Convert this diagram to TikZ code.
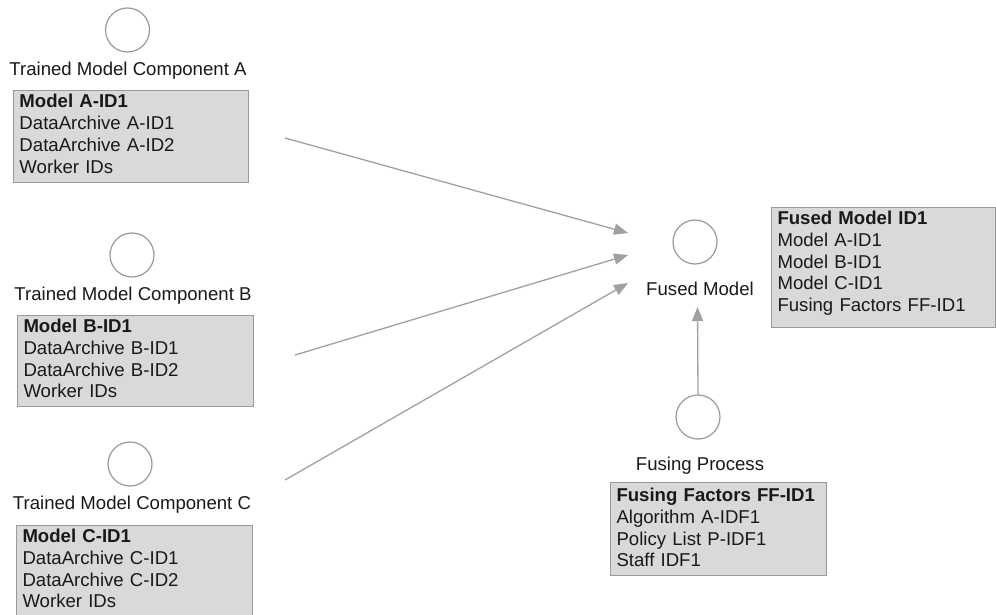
\documentclass[tikz,border=0pt]{standalone}
\usepackage{fontspec}
\setmainfont{Liberation Sans}
\usetikzlibrary{arrows.meta}
\definecolor{boxfill}{HTML}{D9D9D9}
\definecolor{edgegray}{HTML}{9A9A9A}
\definecolor{arrowgray}{HTML}{A0A0A0}
\begin{document}
\begin{tikzpicture}[x=1pt,y=-1pt,
  every node/.style={font=\fontsize{18.6}{21.8}\selectfont, text=black!90},
  comp/.style={circle, draw=edgegray, fill=white, line width=1.2pt, minimum size=44pt, inner sep=0pt},
  lbl/.style={anchor=base, inner sep=0pt},
  infobox/.style={draw=edgegray, fill=boxfill, line width=1pt, anchor=north west, inner xsep=6pt, inner ysep=0pt, align=left},
  conn/.style={draw=arrowgray, line width=1.3pt, -{Triangle[length=14pt,width=11pt]}}
]
\useasboundingbox (0,0) rectangle (996,615);
\clip (0,0) rectangle (996,615);

% component A
\node[comp] (cA) at (127.5,30) {};
\node[lbl] (lA) at (128,76) {Trained Model Component A};
\node[infobox, text width=223pt] (bA) at (13,90)
  {\rule{0pt}{17.5pt}\textbf{Model A-ID1}\\DataArchive A-ID1\\DataArchive A-ID2\\Worker IDs\rule[-9pt]{0pt}{0pt}};

% component B
\node[comp] (cB) at (132,255) {};
\node[lbl] (lB) at (133,300) {Trained Model Component B};
\node[infobox, text width=224pt] (bB) at (17,315)
  {\rule{0pt}{17pt}\textbf{Model B-ID1}\\DataArchive B-ID1\\DataArchive B-ID2\\Worker IDs\rule[-9pt]{0pt}{0pt}};

% component C
\node[comp] (cC) at (130,464) {};
\node[lbl] (lC) at (132,509) {Trained Model Component C};
\node[infobox, text width=224pt] (bC) at (16,525)
  {\rule{0pt}{17pt}\textbf{Model C-ID1}\\DataArchive C-ID1\\DataArchive C-ID2\\Worker IDs\rule[-9pt]{0pt}{0pt}};

% fused model
\node[comp] (cF) at (695,242) {};
\node[lbl] (lF) at (700,295) {Fused Model};
\node[infobox, text width=212pt] (bF) at (771,207)
  {\rule{0pt}{17pt}\textbf{Fused Model ID1}\\Model A-ID1\\Model B-ID1\\Model C-ID1\\Fusing Factors FF-ID1\rule[-16pt]{0pt}{0pt}};

% fusing process
\node[comp] (cP) at (698,417) {};
\node[lbl] (lP) at (700,470) {Fusing Process};
\node[infobox, text width=204pt] (bP) at (610,482)
  {\rule{0pt}{19pt}\textbf{Fusing Factors FF-ID1}\\Algorithm A-IDF1\\Policy List P-IDF1\\Staff IDF1\rule[-8.6pt]{0pt}{0pt}};

% connector ends
\coordinate (sA) at (285,138);
\coordinate (eA) at (628,233);
\coordinate (sB) at (295,355);
\coordinate (eB) at (628,255);
\coordinate (sC) at (285,480);
\coordinate (eC) at (628,283);
\coordinate (eP) at (697.5,307);

\draw[conn] (sA) -- (eA);
\draw[conn] (sB) -- (eB);
\draw[conn] (sC) -- (eC);
\draw[conn] (cP.north) -- (eP);
\end{tikzpicture}
\end{document}
